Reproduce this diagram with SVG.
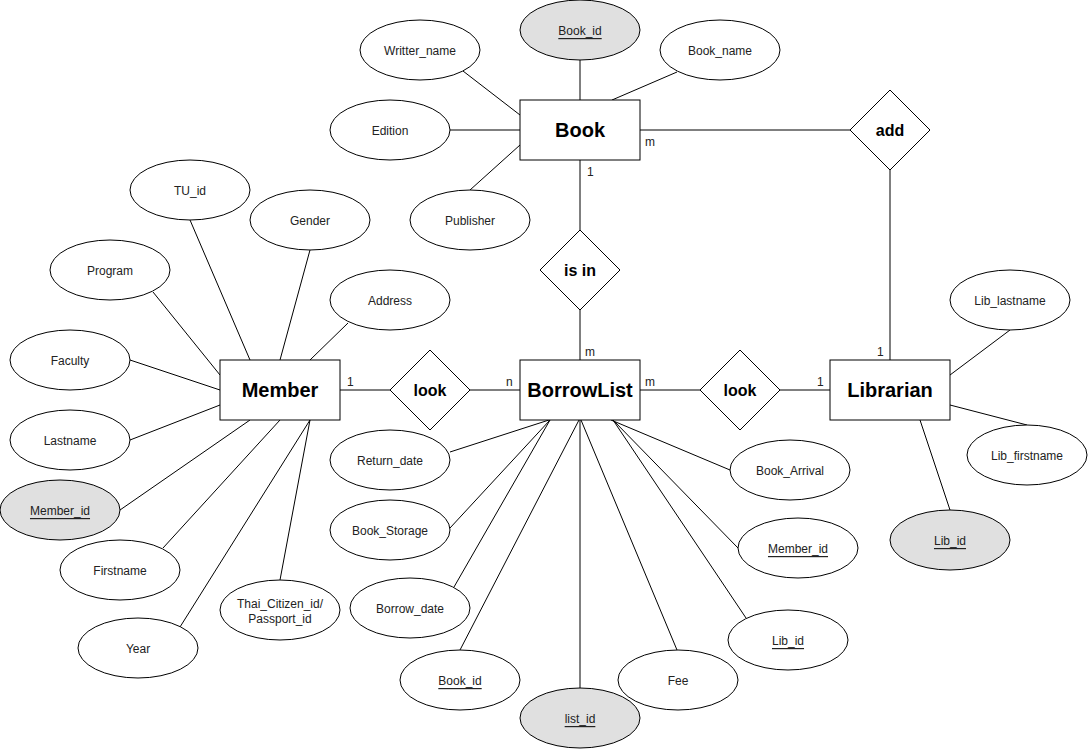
<svg xmlns="http://www.w3.org/2000/svg" width="1088" height="749" viewBox="0 0 1088 749">
<style>
.bg{fill:#ffffff}
.ent rect{fill:#ffffff;stroke:#000;stroke-width:1}
.ent text{font-family:"Liberation Sans",Arial,sans-serif;font-size:20px;font-weight:bold;fill:#000;text-anchor:middle;dominant-baseline:central}
.rel polygon{fill:#ffffff;stroke:#000;stroke-width:1}
.rel text{font-family:"Liberation Sans",Arial,sans-serif;font-size:16px;font-weight:bold;fill:#000;text-anchor:middle;dominant-baseline:central}
.att ellipse{fill:#ffffff;stroke:#000;stroke-width:1}
.att.key ellipse{fill:#e0e0e0}
.att text{font-family:"Liberation Sans",Arial,sans-serif;font-size:12px;fill:#222;text-anchor:middle;dominant-baseline:central;transform:translateY(1px)}
.att text.u{text-decoration:underline}
#connectors line{stroke:#000;stroke-width:1}
.card{font-family:"Liberation Sans",Arial,sans-serif;font-size:12px;fill:#222}
</style>
<rect class="bg" x="0" y="0" width="1088" height="749"/>
<g id="connectors">
<line x1="580" y1="60" x2="580" y2="100"/>
<line x1="463" y1="71" x2="520" y2="115"/>
<line x1="677" y1="72" x2="612" y2="100"/>
<line x1="450" y1="130" x2="520" y2="130"/>
<line x1="470" y1="190" x2="520" y2="145"/>
<line x1="640" y1="130" x2="850" y2="130"/>
<line x1="890" y1="170" x2="890" y2="360"/>
<line x1="580" y1="160" x2="580" y2="230"/>
<line x1="580" y1="310" x2="580" y2="360"/>
<line x1="340" y1="390" x2="390" y2="390"/>
<line x1="470" y1="390" x2="520" y2="390"/>
<line x1="640" y1="390" x2="700" y2="390"/>
<line x1="780" y1="390" x2="830" y2="390"/>
<line x1="190" y1="220" x2="250" y2="360"/>
<line x1="310" y1="250" x2="280" y2="360"/>
<line x1="153" y1="292" x2="220" y2="375"/>
<line x1="348" y1="323" x2="310" y2="360"/>
<line x1="130" y1="360" x2="220" y2="390"/>
<line x1="130" y1="440" x2="220" y2="405"/>
<line x1="120" y1="510" x2="250" y2="420"/>
<line x1="163" y1="548" x2="280" y2="420"/>
<line x1="180" y1="627" x2="310" y2="420"/>
<line x1="280" y1="580" x2="310" y2="420"/>
<line x1="450" y1="452" x2="549" y2="420"/>
<line x1="450" y1="528" x2="550" y2="420"/>
<line x1="454" y1="587" x2="550" y2="420"/>
<line x1="460" y1="650" x2="579" y2="420"/>
<line x1="580" y1="688" x2="580" y2="420"/>
<line x1="677" y1="650" x2="581" y2="420"/>
<line x1="746" y1="618" x2="613" y2="420"/>
<line x1="738" y1="548" x2="613" y2="420"/>
<line x1="730" y1="470" x2="611" y2="420"/>
<line x1="1010" y1="330" x2="950" y2="375"/>
<line x1="950" y1="405" x2="1027" y2="425"/>
<line x1="920" y1="420" x2="950" y2="510"/>
</g>
<g id="cardinalities">
<text class="card" x="645" y="146">m</text>
<text class="card" x="587" y="176">1</text>
<text class="card" x="585" y="356">m</text>
<text class="card" x="347" y="386">1</text>
<text class="card" x="506" y="386">n</text>
<text class="card" x="645" y="386">m</text>
<text class="card" x="817" y="386">1</text>
<text class="card" x="877" y="356">1</text>
</g>
<g id="Book" class="ent"><rect x="520" y="100" width="120" height="60"/><text x="580" y="130">Book</text></g>
<g id="Member" class="ent"><rect x="220" y="360" width="120" height="60"/><text x="280" y="390">Member</text></g>
<g id="BorrowList" class="ent"><rect x="520" y="360" width="120" height="60"/><text x="580" y="390">BorrowList</text></g>
<g id="Librarian" class="ent"><rect x="830" y="360" width="120" height="60"/><text x="890" y="390">Librarian</text></g>
<g id="add" class="rel"><polygon points="890,90 930,130 890,170 850,130"/><text x="890" y="130">add</text></g>
<g id="is_in" class="rel"><polygon points="580,230 620,270 580,310 540,270"/><text x="580" y="270">is in</text></g>
<g id="look_member" class="rel"><polygon points="430,350 470,390 430,430 390,390"/><text x="430" y="390">look</text></g>
<g id="look_librarian" class="rel"><polygon points="740,350 780,390 740,430 700,390"/><text x="740" y="390">look</text></g>
<g id="Book_Book_id" class="att key"><ellipse cx="580" cy="30" rx="60" ry="30"/><text class="u" x="580" y="30">Book_id</text></g>
<g id="Book_Writter_name" class="att"><ellipse cx="420" cy="50" rx="60" ry="30"/><text x="420" y="50">Writter_name</text></g>
<g id="Book_Book_name" class="att"><ellipse cx="720" cy="50" rx="60" ry="30"/><text x="720" y="50">Book_name</text></g>
<g id="Book_Edition" class="att"><ellipse cx="390" cy="130" rx="60" ry="30"/><text x="390" y="130">Edition</text></g>
<g id="Book_Publisher" class="att"><ellipse cx="470" cy="220" rx="60" ry="30"/><text x="470" y="220">Publisher</text></g>
<g id="Member_TU_id" class="att"><ellipse cx="190" cy="190" rx="60" ry="30"/><text x="190" y="190">TU_id</text></g>
<g id="Member_Gender" class="att"><ellipse cx="310" cy="220" rx="60" ry="30"/><text x="310" y="220">Gender</text></g>
<g id="Member_Program" class="att"><ellipse cx="110" cy="270" rx="60" ry="30"/><text x="110" y="270">Program</text></g>
<g id="Member_Address" class="att"><ellipse cx="390" cy="300" rx="60" ry="30"/><text x="390" y="300">Address</text></g>
<g id="Member_Faculty" class="att"><ellipse cx="70" cy="360" rx="60" ry="30"/><text x="70" y="360">Faculty</text></g>
<g id="Member_Lastname" class="att"><ellipse cx="70" cy="440" rx="60" ry="30"/><text x="70" y="440">Lastname</text></g>
<g id="Member_Member_id" class="att key"><ellipse cx="60" cy="510" rx="60" ry="30"/><text class="u" x="60" y="510">Member_id</text></g>
<g id="Member_Firstname" class="att"><ellipse cx="120" cy="570" rx="60" ry="30"/><text x="120" y="570">Firstname</text></g>
<g id="Member_Year" class="att"><ellipse cx="138" cy="648" rx="60" ry="30"/><text x="138" y="648">Year</text></g>
<g id="Member_Thai_Citizen_id" class="att"><ellipse cx="280" cy="610" rx="60" ry="30"/><text x="280" y="603">Thai_Citizen_id/</text><text x="280" y="618">Passport_id</text></g>
<g id="BL_Return_date" class="att"><ellipse cx="390" cy="460" rx="60" ry="30"/><text x="390" y="460">Return_date</text></g>
<g id="BL_Book_Storage" class="att"><ellipse cx="390" cy="530" rx="60" ry="30"/><text x="390" y="530">Book_Storage</text></g>
<g id="BL_Borrow_date" class="att"><ellipse cx="410" cy="608" rx="60" ry="30"/><text x="410" y="608">Borrow_date</text></g>
<g id="BL_Book_id" class="att"><ellipse cx="460" cy="680" rx="60" ry="30"/><text class="u" x="460" y="680">Book_id</text></g>
<g id="BL_list_id" class="att key"><ellipse cx="580" cy="718" rx="60" ry="30"/><text class="u" x="580" y="718">list_id</text></g>
<g id="BL_Fee" class="att"><ellipse cx="678" cy="680" rx="60" ry="30"/><text x="678" y="680">Fee</text></g>
<g id="BL_Lib_id" class="att"><ellipse cx="788" cy="640" rx="60" ry="30"/><text class="u" x="788" y="640">Lib_id</text></g>
<g id="BL_Member_id" class="att"><ellipse cx="798" cy="548" rx="60" ry="30"/><text class="u" x="798" y="548">Member_id</text></g>
<g id="BL_Book_Arrival" class="att"><ellipse cx="790" cy="470" rx="60" ry="30"/><text x="790" y="470">Book_Arrival</text></g>
<g id="Lib_lastname" class="att"><ellipse cx="1010" cy="300" rx="60" ry="30"/><text x="1010" y="300">Lib_lastname</text></g>
<g id="Lib_firstname" class="att"><ellipse cx="1027" cy="455" rx="60" ry="30"/><text x="1027" y="455">Lib_firstname</text></g>
<g id="Lib_Lib_id" class="att key"><ellipse cx="950" cy="540" rx="60" ry="30"/><text class="u" x="950" y="540">Lib_id</text></g>
</svg>
